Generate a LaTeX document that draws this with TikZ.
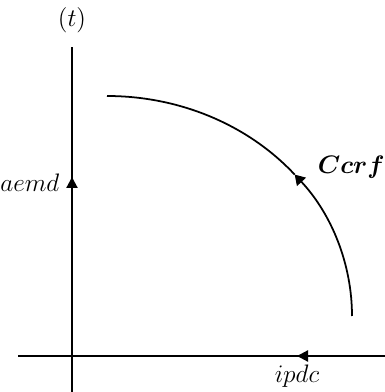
\documentclass[tikz,border=0pt]{standalone}
\usepackage{amsmath,amssymb,bm}
\usepackage{tikz}
\usetikzlibrary{arrows.meta, positioning}

\begin{document}
\begin{tikzpicture}[
    x=0.02cm, y=0.02cm,
    axis/.style={line width=1.2pt},
    curve/.style={line width=1pt},
    tip/.style={-{Triangle[length=2.2mm, width=2.2mm]}, line width=1.2pt},
    lbl/.style={font=\Large, inner sep=1pt}
]
\useasboundingbox (0,0) rectangle (385,392);

% Axes
\coordinate (origin) at (72,36);
\coordinate (ytop) at (72,345);
\coordinate (ybot) at (72,0);
\coordinate (xleft) at (18,36);
\coordinate (xright) at (385,36);
\draw[axis] (ybot) -- (ytop);
\draw[axis] (xleft) -- (xright);

% Arrows on the axes
\coordinate (yarr) at (72,215);
\coordinate (xarr) at (297,36);
\draw[tip] (72,190) -- (yarr);
\draw[tip] (330,36) -- (xarr);

% Curve
\coordinate (cstart) at (352,76);
\draw[curve, -{Triangle[length=2mm, width=2.4mm]}] (cstart)
    arc[start angle=0, end angle=40, x radius=245, y radius=220] coordinate (cmark);
\draw[curve] (cmark) arc[start angle=40, end angle=90, x radius=245, y radius=220];

% Labels
\node[lbl] (tlabel) at (72,372) {$(t)$};
\node[lbl, left=6pt of yarr, yshift=-3pt] (aemd) {$aemd$};
\node[lbl, below=4pt of xarr, xshift=0pt] (ipdc) {$ipdc$};
\node[lbl, right=12pt of cmark, yshift=4pt] (ccrf) {$\bm{Ccrf}$};

\end{tikzpicture}
\end{document}
